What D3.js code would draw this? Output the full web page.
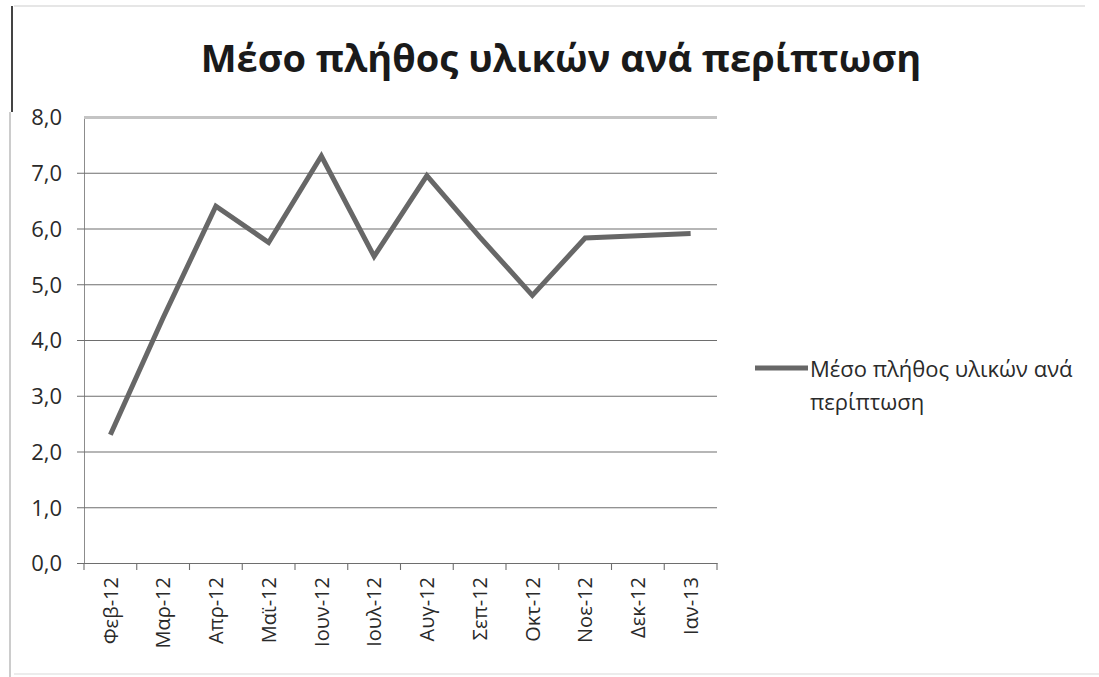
<!DOCTYPE html>
<html>
<head>
<meta charset="utf-8">
<script src="https://cdn.jsdelivr.net/npm/d3@7"></script>
<style>
  html, body { margin: 0; padding: 0; background: #ffffff; }
  svg { display: block; }
  text { font-family: "Open Sans", "Noto Sans", sans-serif; fill: #262626; }
</style>
</head>
<body>
<svg id="chart" width="1099" height="677"></svg>
<script>
// Monthly categories
const months = ["Φεβ-12", "Μαρ-12", "Απρ-12", "Μαϊ-12", "Ιουν-12", "Ιουλ-12",
                "Αυγ-12", "Σεπ-12", "Οκτ-12", "Νοε-12", "Δεκ-12", "Ιαν-13"];
// Average number of materials per case
const avgMaterials = [2.3, 4.4, 6.4, 5.75, 7.3, 5.5, 6.95, 5.85, 4.8, 5.83, 5.87, 5.91];
const yTicks = [0, 1, 2, 3, 4, 5, 6, 7, 8];
const seriesName = "Μέσο πλήθος υλικών ανά περίπτωση";
const chartTitle = "Μέσο πλήθος υλικών ανά περίπτωση";

const svg = d3.select("#chart");
const plot = { left: 84, right: 717, top: 117, bottom: 563 };

// Chart area frame
svg.append("line").attr("x1", 12).attr("x2", 12).attr("y1", 6).attr("y2", 112)
  .attr("stroke", "#444").attr("stroke-width", 2);
svg.append("line").attr("x1", 10).attr("x2", 10).attr("y1", 112).attr("y2", 677)
  .attr("stroke", "#999").attr("stroke-width", 1);
svg.append("line").attr("x1", 14).attr("x2", 1085).attr("y1", 6).attr("y2", 6)
  .attr("stroke", "#e6e6e6").attr("stroke-width", 2);
svg.append("line").attr("x1", 14).attr("x2", 1099).attr("y1", 674).attr("y2", 674)
  .attr("stroke", "#ececec").attr("stroke-width", 2);

const x = d3.scaleBand().domain(months).range([plot.left, plot.right]).padding(0);
const y = d3.scaleLinear().domain([0, 8]).range([plot.bottom, plot.top]);

// Horizontal gridlines with small ticks left of the axis
const yAxis = d3.axisLeft(y).tickValues(yTicks)
  .tickSize(-(plot.right - plot.left))
  .tickFormat(d => d3.format(".1f")(d).replace(".", ","));
const gy = svg.append("g").attr("transform", `translate(${plot.left},0)`).call(yAxis);
gy.select(".domain").attr("stroke", "#8c8c8c").attr("stroke-width", 1);
gy.selectAll(".tick line").attr("stroke", "#6e6e6e").attr("stroke-width", 1.1)
  .attr("x1", -7);
gy.selectAll(".tick text").attr("x", -22).attr("dy", "0.36em")
  .style("font-size", "22px").style("fill", "#2a2a2a");
// top gridline rendered as the soft plot border
gy.selectAll(".tick").filter(d => d === 8).select("line")
  .attr("x1", 0).attr("stroke", "#c4c4c4").attr("stroke-width", 3);

// Category axis
const xAxis = d3.axisBottom(x).tickSizeOuter(0).tickSize(0);
const gx = svg.append("g").attr("transform", `translate(0,${plot.bottom})`).call(xAxis);
gx.select(".domain").attr("stroke", "#6e6e6e").attr("stroke-width", 1.1);
gx.selectAll(".tick text")
  .attr("transform", "rotate(-90)")
  .attr("x", -14).attr("y", 0).attr("dy", "0.36em")
  .attr("text-anchor", "end")
  .style("font-size", "20px").style("fill", "#2a2a2a");
// boundary ticks between categories
const bounds = months.map(m => x(m)).concat([x(months[months.length - 1]) + x.bandwidth()]);
svg.append("g").selectAll("line").data(bounds).join("line")
  .attr("x1", d => d).attr("x2", d => d)
  .attr("y1", plot.bottom).attr("y2", plot.bottom + 7)
  .attr("stroke", "#6e6e6e").attr("stroke-width", 1.1);

// Series line
const line = d3.line()
  .x((d, i) => x(months[i]) + x.bandwidth() / 2)
  .y(d => y(d));
svg.append("path").datum(avgMaterials)
  .attr("d", line)
  .attr("fill", "none")
  .attr("stroke", "#676767")
  .attr("stroke-width", 5)
  .attr("stroke-linejoin", "miter");

// Title
svg.append("text").attr("x", 561).attr("y", 72)
  .attr("text-anchor", "middle")
  .style("font-size", "38px").style("font-weight", "700").style("fill", "#1a1a1a")
  .text(chartTitle);

// Legend
const lg = svg.append("g");
lg.append("line").attr("x1", 755).attr("x2", 808).attr("y1", 368).attr("y2", 368)
  .attr("stroke", "#676767").attr("stroke-width", 5);
const words = seriesName.split(" ");
lg.append("text").attr("x", 810).attr("y", 377)
  .style("font-size", "22px").style("fill", "#2a2a2a")
  .text(words.slice(0, 4).join(" "));
lg.append("text").attr("x", 810).attr("y", 410)
  .style("font-size", "22px").style("fill", "#2a2a2a")
  .text(words.slice(4).join(" "));
</script>
</body>
</html>
